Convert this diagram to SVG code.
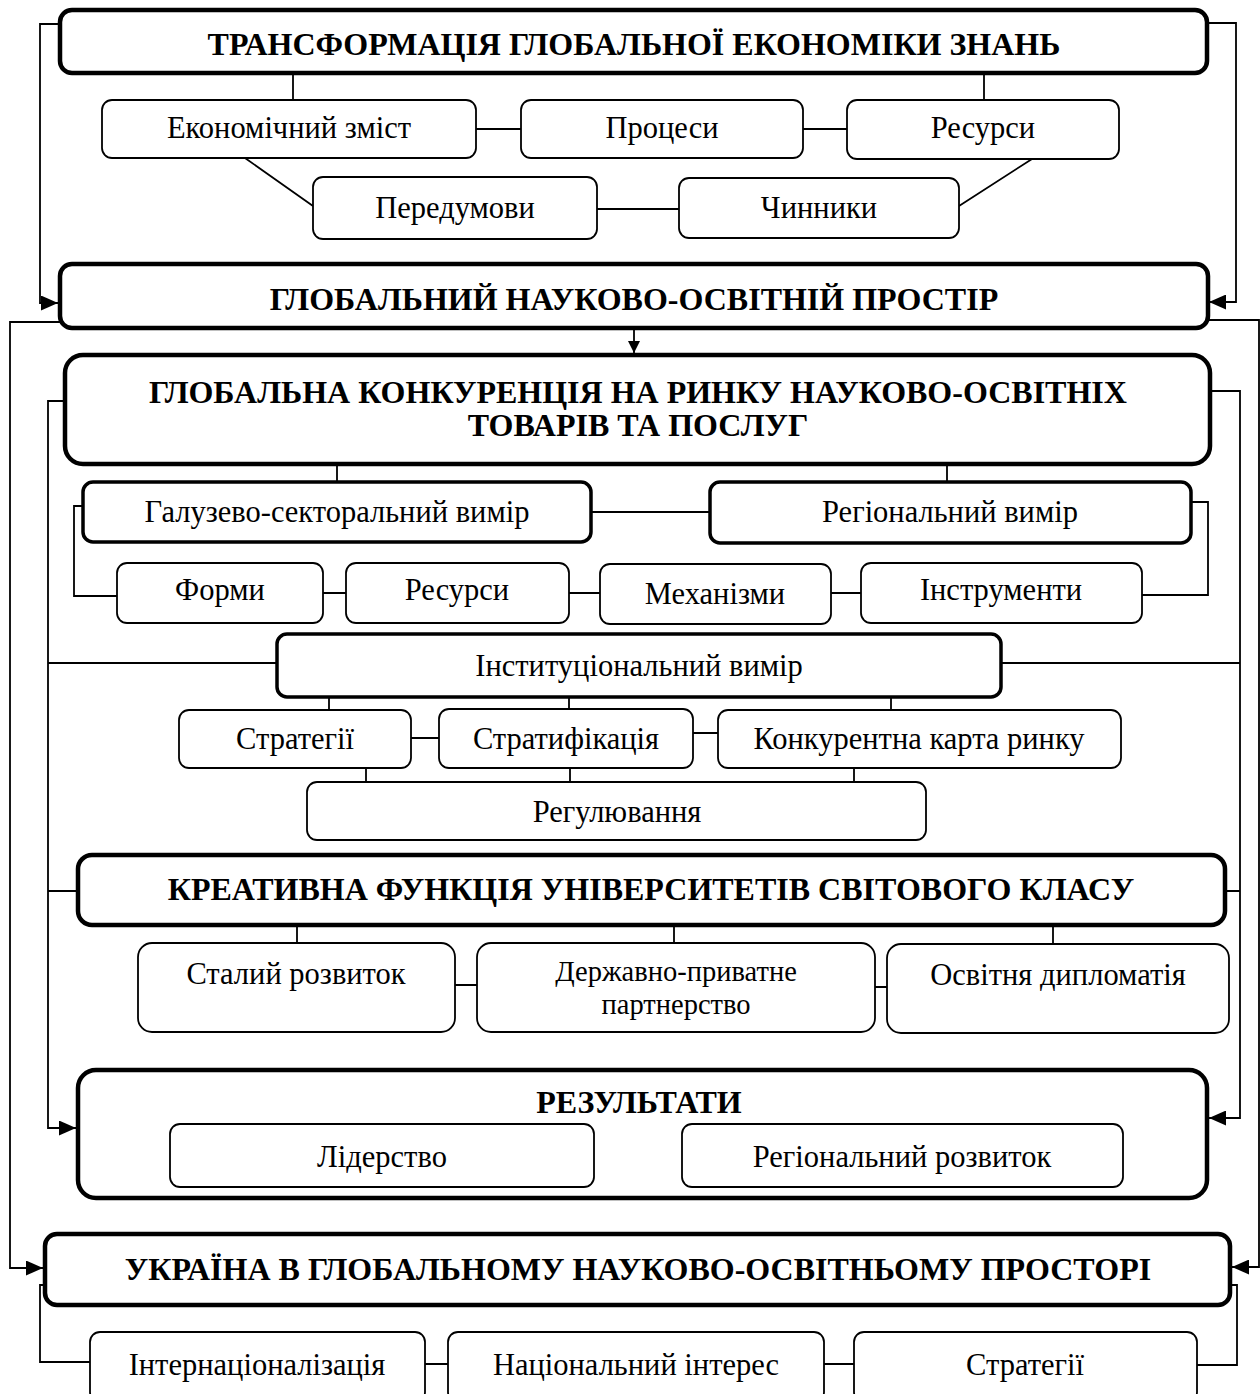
<svg xmlns="http://www.w3.org/2000/svg" width="1260" height="1394" viewBox="0 0 1260 1394">
<style>
.bg{fill:#fff}
.thick{fill:#fff;stroke:#000;stroke-width:4.5}
.mid{fill:#fff;stroke:#000;stroke-width:3.5}
.thin{fill:#fff;stroke:#000;stroke-width:1.8}
.ln{fill:none;stroke:#000;stroke-width:1.8}
.b{font-family:"Liberation Serif","Times New Roman",serif;font-weight:bold;font-size:32px;text-anchor:middle;fill:#000}
.r{font-family:"Liberation Serif","Times New Roman",serif;font-size:30.5px;text-anchor:middle;fill:#000}
.r2{font-family:"Liberation Serif","Times New Roman",serif;font-size:28.5px;text-anchor:middle;fill:#000}
</style>
<defs>
<marker id="ah" viewBox="0 0 12 12" refX="12" refY="6" markerWidth="12" markerHeight="12" markerUnits="userSpaceOnUse" orient="auto">
<path d="M0,0 L12,6 L0,12 z" fill="#000"/>
</marker>
<marker id="ah2" viewBox="0 0 17 15" refX="17" refY="7.5" markerWidth="17" markerHeight="15" markerUnits="userSpaceOnUse" orient="auto">
<path d="M0,0 L17,7.5 L0,15 z" fill="#000"/>
</marker>
</defs>
<rect class="bg" x="0" y="0" width="1260" height="1394"/>

<g id="connectors">
<path class="ln" d="M60,24 H40 V303 H58" marker-end="url(#ah2)"/>
<path class="ln" d="M1207,23 H1236 V302 H1209" marker-end="url(#ah2)"/>
<path class="ln" d="M60,322 H10 V1268 H43" marker-end="url(#ah2)"/>
<path class="ln" d="M1208,320 H1259 V1267 H1232" marker-end="url(#ah2)"/>
<path class="ln" d="M293,73 V99 M984,73 V99 M476,129 H521 M803,129 H847 M597,209 H679 M245,158 L313,206 M1032,159 L959,206"/>
<path class="ln" d="M634,328 V353" marker-end="url(#ah)"/>
<path class="ln" d="M64,401 H48 V1128 H76" marker-end="url(#ah2)"/>
<path class="ln" d="M48,663 H277 M48,891 H78"/>
<path class="ln" d="M1210,391 H1240 V1118 H1209" marker-end="url(#ah2)"/>
<path class="ln" d="M1001,663 H1240 M1225,891 H1240"/>
<path class="ln" d="M337,464 V482 M947,464 V482 M591,512 H710"/>
<path class="ln" d="M83,506 H74 V596 H117 M1191,502 H1208 V595 H1142"/>
<path class="ln" d="M323,593 H346 M569,593 H600 M831,593 H861"/>
<path class="ln" d="M329,697 V710 M569,697 V709 M891,697 V710 M411,738 H439 M693,733 H718"/>
<path class="ln" d="M366,768 V782 M570,768 V782 M854,768 V782"/>
<path class="ln" d="M297,925 V943 M674,925 V943 M1053,925 V943 M455,985 H477 M875,987 H887"/>
<path class="ln" d="M594,1155 H682"/>
<path class="ln" d="M45,1285 H40 V1362 H90 M1230,1285 H1237 V1365 H1197 M425,1364 H448 M824,1364 H854"/>
</g>

<g id="n-transform"><rect class="thick" x="60" y="10" width="1147" height="63" rx="12"/><text class="b" x="634" y="55">ТРАНСФОРМАЦІЯ ГЛОБАЛЬНОЇ ЕКОНОМІКИ ЗНАНЬ</text></g>
<g id="n-econ"><rect class="thin" x="102" y="100" width="374" height="58" rx="10"/><text class="r" x="289" y="138">Економічний зміст</text></g>
<g id="n-proc"><rect class="thin" x="521" y="100" width="282" height="58" rx="10"/><text class="r" x="662" y="138">Процеси</text></g>
<g id="n-res1"><rect class="thin" x="847" y="100" width="272" height="59" rx="10"/><text class="r" x="983" y="138">Ресурси</text></g>
<g id="n-pered"><rect class="thin" x="313" y="177" width="284" height="62" rx="10"/><text class="r" x="455" y="218">Передумови</text></g>
<g id="n-chyn"><rect class="thin" x="679" y="178" width="280" height="60" rx="10"/><text class="r" x="819" y="218">Чинники</text></g>

<g id="n-global"><rect class="thick" x="60" y="264" width="1148" height="64" rx="12"/><text class="b" x="634" y="310">ГЛОБАЛЬНИЙ НАУКОВО-ОСВІТНІЙ ПРОСТІР</text></g>

<g id="n-compet"><rect class="thick" x="65" y="355" width="1145" height="109" rx="18"/><text class="b" x="638" y="403">ГЛОБАЛЬНА КОНКУРЕНЦІЯ НА РИНКУ НАУКОВО-ОСВІТНІХ</text><text class="b" x="638" y="436">ТОВАРІВ ТА ПОСЛУГ</text></g>
<g id="n-galuz"><rect class="mid" x="83" y="482" width="508" height="60" rx="10"/><text class="r" x="337" y="522">Галузево-секторальний вимір</text></g>
<g id="n-region"><rect class="mid" x="710" y="482" width="481" height="61" rx="10"/><text class="r" x="950" y="522">Регіональний вимір</text></g>
<g id="n-formy"><rect class="thin" x="117" y="563" width="206" height="60" rx="10"/><text class="r" x="220" y="600">Форми</text></g>
<g id="n-res2"><rect class="thin" x="346" y="563" width="223" height="60" rx="10"/><text class="r" x="457" y="600">Ресурси</text></g>
<g id="n-mech"><rect class="thin" x="600" y="564" width="231" height="60" rx="10"/><text class="r" x="715" y="604">Механізми</text></g>
<g id="n-instr"><rect class="thin" x="861" y="563" width="281" height="60" rx="10"/><text class="r" x="1001" y="600">Інструменти</text></g>
<g id="n-inst"><rect class="mid" x="277" y="634" width="724" height="63" rx="10"/><text class="r" x="639" y="676">Інституціональний вимір</text></g>
<g id="n-strat1"><rect class="thin" x="179" y="710" width="232" height="58" rx="10"/><text class="r" x="295" y="749">Стратегії</text></g>
<g id="n-stratif"><rect class="thin" x="439" y="709" width="254" height="59" rx="10"/><text class="r" x="566" y="749">Стратифікація</text></g>
<g id="n-konk"><rect class="thin" x="718" y="710" width="403" height="58" rx="10"/><text class="r" x="919" y="749">Конкурентна карта ринку</text></g>
<g id="n-regul"><rect class="thin" x="307" y="782" width="619" height="58" rx="10"/><text class="r" x="617" y="822">Регулювання</text></g>

<g id="n-creat"><rect class="thick" x="78" y="855" width="1147" height="70" rx="14"/><text class="b" x="651" y="900">КРЕАТИВНА ФУНКЦІЯ УНІВЕРСИТЕТІВ СВІТОВОГО КЛАСУ</text></g>
<g id="n-stalyi"><rect class="thin" x="138" y="943" width="317" height="89" rx="14"/><text class="r" x="296" y="984">Сталий розвиток</text></g>
<g id="n-dpp"><rect class="thin" x="477" y="943" width="398" height="89" rx="14"/><text class="r2" x="676" y="981">Державно-приватне</text><text class="r2" x="676" y="1014">партнерство</text></g>
<g id="n-dipl"><rect class="thin" x="887" y="944" width="342" height="89" rx="14"/><text class="r" x="1058" y="985">Освітня дипломатія</text></g>

<g id="n-result"><rect class="thick" x="78" y="1070" width="1129" height="128" rx="18"/><text class="b" x="639" y="1113">РЕЗУЛЬТАТИ</text></g>
<g id="n-lider"><rect class="thin" x="170" y="1124" width="424" height="63" rx="10"/><text class="r" x="382" y="1167">Лідерство</text></g>
<g id="n-regdev"><rect class="thin" x="682" y="1124" width="441" height="63" rx="10"/><text class="r" x="902" y="1167">Регіональний розвиток</text></g>

<g id="n-ukraine"><rect class="thick" x="45" y="1234" width="1185" height="71" rx="12"/><text class="b" x="638" y="1280">УКРАЇНА В ГЛОБАЛЬНОМУ НАУКОВО-ОСВІТНЬОМУ ПРОСТОРІ</text></g>
<g id="n-intern"><rect class="thin" x="90" y="1332" width="335" height="70" rx="10"/><text class="r" x="257" y="1375">Інтернаціоналізація</text></g>
<g id="n-natint"><rect class="thin" x="448" y="1332" width="376" height="70" rx="10"/><text class="r" x="636" y="1375">Національний інтерес</text></g>
<g id="n-strat2"><rect class="thin" x="854" y="1332" width="343" height="70" rx="10"/><text class="r" x="1025" y="1375">Стратегії</text></g>
</svg>
